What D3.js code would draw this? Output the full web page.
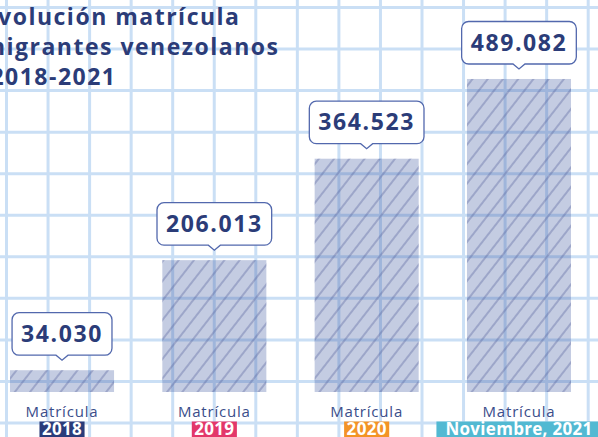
<!DOCTYPE html>
<html>
<head>
<meta charset="utf-8">
<script src="https://cdn.jsdelivr.net/npm/d3@7"></script>
<style>
  html, body { margin: 0; padding: 0; background: #ffffff; }
  svg { display: block; }
</style>
</head>
<body>
<svg id="chart" width="598" height="437"></svg>
<script>
"use strict";

const years = ["2018", "2019", "2020", "2021"];
const values = [34030, 206013, 364523, 489082];
const valueLabels = ["34.030", "206.013", "364.523", "489.082"];
const yearLabels = ["2018", "2019", "2020", "Noviembre, 2021"];
const yearColors = ["#2a3c7a", "#e3376a", "#f39326", "#52b9d2"];
const titleLines = ["Evolución matrícula", "migrantes venezolanos", "2018-2021"];

const width = 598;
const height = 437;
const navy = "#2b3c78";

const svg = d3.select("#chart");

// graph paper background
const gridStep = 41.55;
const grid = svg.append("g").attr("stroke", "#cadff5").attr("stroke-width", 3);
d3.range(6.5, width + 2, gridStep).forEach((x) => {
  grid.append("line").attr("x1", x).attr("x2", x).attr("y1", 0).attr("y2", height);
});
d3.range(7.5, height + 2, gridStep).forEach((y) => {
  grid.append("line").attr("x1", 0).attr("x2", width).attr("y1", y).attr("y2", y);
});

// hatch pattern
const defs = svg.append("defs");
defs
  .append("pattern")
  .attr("id", "hatch")
  .attr("patternUnits", "userSpaceOnUse")
  .attr("width", 12)
  .attr("height", 12)
  .attr("patternTransform", "rotate(38)")
  .append("line")
  .attr("x1", 1)
  .attr("x2", 1)
  .attr("y1", 0)
  .attr("y2", 12)
  .attr("stroke", "#56629a")
  .attr("stroke-opacity", 0.8)
  .attr("stroke-width", 0.9);

// title (cropped on the left in the original)
const titleRight = [240.5, 279.5, 116.5];
svg
  .append("g")
  .selectAll("text")
  .data(titleLines)
  .enter()
  .append("text")
  .attr("x", (d, i) => titleRight[i])
  .attr("y", (d, i) => 24.5 + i * 30)
  .attr("text-anchor", "end")
  .attr("font-family", "'Open Sans', sans-serif")
  .attr("font-weight", 700)
  .attr("font-size", 23)
  .attr("letter-spacing", 1.5)
  .attr("fill", navy)
  .text((d) => d);

const x = d3.scaleBand().domain(years).range([10, 571]).paddingInner(0.317).paddingOuter(0);
const y = d3.scaleLinear().domain([0, 500000]).range([392, 72]);

const bars = svg.append("g");
years.forEach((yr, i) => {
  const bx = x(yr);
  const by = y(values[i]);
  const bh = y(0) - by;
  bars.append("rect")
    .attr("x", bx).attr("y", by).attr("width", x.bandwidth()).attr("height", bh)
    .attr("fill", "#3d55a0").attr("fill-opacity", 0.3);
  bars.append("rect")
    .attr("x", bx).attr("y", by).attr("width", x.bandwidth()).attr("height", bh)
    .attr("fill", "url(#hatch)");
});

// speech bubble labels
const bubbles = svg.append("g");
years.forEach((yr, i) => {
  const cx = x(yr) + x.bandwidth() / 2;
  const top = y(values[i]);
  const y1 = top - 15;
  const y0 = y1 - 42.5;
  const g = bubbles.append("g");
  const path = g.append("path");
  const t = g.append("text")
    .attr("x", cx)
    .attr("y", (y0 + y1) / 2 + 8)
    .attr("text-anchor", "middle")
    .attr("font-family", "'Open Sans', sans-serif")
    .attr("font-weight", 700)
    .attr("font-size", 23)
    .attr("letter-spacing", 1.6)
    .attr("fill", navy)
    .text(valueLabels[i]);
  const tw = t.node().getComputedTextLength();
  const w = tw + 18;
  const x0 = cx - w / 2;
  const x1 = cx + w / 2;
  const r = 7;
  const d = `M${x0 + r},${y0} H${x1 - r} A${r},${r} 0 0 1 ${x1},${y0 + r} V${y1 - r}
    A${r},${r} 0 0 1 ${x1 - r},${y1} H${cx + 6} L${cx},${y1 + 5} L${cx - 6},${y1}
    H${x0 + r} A${r},${r} 0 0 1 ${x0},${y1 - r} V${y0 + r} A${r},${r} 0 0 1 ${x0 + r},${y0} Z`;
  path.attr("d", d).attr("fill", "#ffffff").attr("stroke", "#5268ad").attr("stroke-width", 1.3);
});

// bottom labels
const bottom = svg.append("g");
years.forEach((yr, i) => {
  const cx = x(yr) + x.bandwidth() / 2;
  bottom.append("text")
    .attr("x", cx).attr("y", 417)
    .attr("text-anchor", "middle")
    .attr("font-family", "'Open Sans', sans-serif")
    .attr("font-size", 15)
    .attr("letter-spacing", 0.8)
    .attr("fill", "#3a4d8a")
    .text("Matrícula");
  const rect = bottom.append("rect");
  const t = bottom.append("text")
    .attr("x", cx).attr("y", 434.5)
    .attr("text-anchor", "middle")
    .attr("font-family", "'Open Sans', sans-serif")
    .attr("font-weight", 700)
    .attr("font-size", 17)
    .attr("letter-spacing", 0.3)
    .attr("fill", "#ffffff")
    .text(yearLabels[i]);
  const tw = t.node().getComputedTextLength();
  const pad = yearLabels[i].length > 6 ? 9 : 2.5;
  rect.attr("x", cx - tw / 2 - pad).attr("y", 421.5).attr("width", tw + pad * 2).attr("height", 18)
    .attr("fill", yearColors[i]);
});
</script>
</body>
</html>
